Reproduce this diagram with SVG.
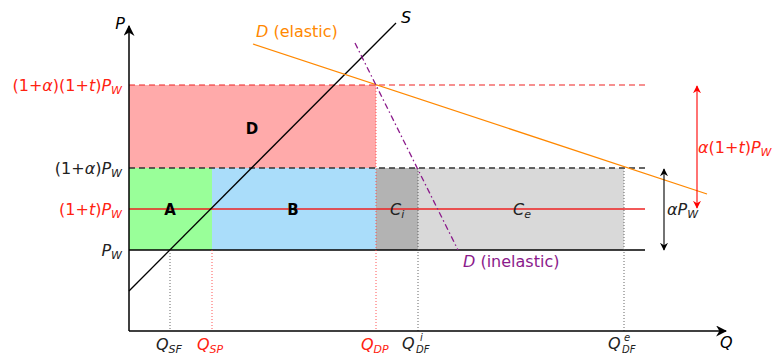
<svg xmlns="http://www.w3.org/2000/svg" width="780" height="355" viewBox="0 0 780 355">
<defs>
<marker id="ab" viewBox="0 0 10 10" refX="9" refY="5" markerWidth="8" markerHeight="8" markerUnits="userSpaceOnUse" orient="auto-start-reverse"><path d="M0,0 L10,5 L0,10 L3,5 Z" fill="#000"/></marker>
<marker id="ar" viewBox="0 0 10 10" refX="9" refY="5" markerWidth="8" markerHeight="8" markerUnits="userSpaceOnUse" orient="auto-start-reverse"><path d="M0,0 L10,5 L0,10 L3,5 Z" fill="#f00"/></marker>
<marker id="axm" viewBox="0 0 10 10" refX="9" refY="5" markerWidth="11" markerHeight="11" markerUnits="userSpaceOnUse" orient="auto"><path d="M0,0 L10,5 L0,10 L3,5 Z" fill="#000"/></marker>
</defs>
<style>
text{font-family:"DejaVu Sans","Liberation Sans",sans-serif;font-size:16px}
.m{font-style:italic}
.red{fill:#f21}
.blk{fill:#222}
.lbl{font-weight:bold;font-size:15px}
.sub{font-size:11px;font-style:italic}
.sm{font-size:10px;font-style:italic}
.dot{stroke-dasharray:1 2;stroke-width:0.9;fill:none}
</style>
<g id="regions">
<rect id="regionD" x="129" y="85" width="247" height="83" fill="#ffaaaa"/>
<rect id="regionA" x="129" y="168" width="83" height="82" fill="#99ff99"/>
<rect id="regionB" x="212" y="168" width="164" height="82" fill="#aaddfa"/>
<rect id="regionCi" x="376" y="168" width="42" height="82" fill="#b3b3b3"/>
<rect id="regionCe" x="418" y="168" width="206" height="82" fill="#d9d9d9"/>
</g>
<g id="connectors">
<line x1="129" y1="85" x2="645" y2="85" stroke="#e22" stroke-width="1.2" stroke-dasharray="6 4"/>
<line x1="129" y1="168" x2="645" y2="168" stroke="#333" stroke-width="1.4" stroke-dasharray="6 4"/>
<line x1="129" y1="209" x2="645" y2="209" stroke="#e22" stroke-width="1.3"/>
<line x1="129" y1="250" x2="645" y2="250" stroke="#000" stroke-width="1.3"/>
<line class="dot" x1="170" y1="250" x2="170" y2="331" stroke="#555"/>
<line class="dot" x1="212" y1="250" x2="212" y2="331" stroke="#f44"/>
<line class="dot" x1="376" y1="85" x2="376" y2="331" stroke="#f44"/>
<line class="dot" x1="418" y1="168" x2="418" y2="331" stroke="#555"/>
<line class="dot" x1="624" y1="168" x2="624" y2="331" stroke="#555"/>
<line id="supply" x1="129" y1="291" x2="396" y2="23" stroke="#000" stroke-width="1.3"/>
<line id="demandElastic" x1="253" y1="44" x2="707" y2="194" stroke="#ff8800" stroke-width="1.3"/>
<line id="demandInelastic" x1="355" y1="43" x2="458" y2="250" stroke="#8b1a8b" stroke-width="1.3" stroke-dasharray="6 3 1.5 3"/>
<line x1="129" y1="331" x2="726" y2="331" stroke="#000" stroke-width="1.5" marker-end="url(#axm)"/>
<line x1="129" y1="331" x2="129" y2="26" stroke="#000" stroke-width="1.5" marker-end="url(#axm)"/>
<line x1="697" y1="86" x2="697" y2="208" stroke="#f00" stroke-width="1.1" marker-start="url(#ar)" marker-end="url(#ar)"/>
<line x1="664" y1="169" x2="664" y2="250" stroke="#000" stroke-width="1.1" marker-start="url(#ab)" marker-end="url(#ab)"/>
</g>
<g id="labels">
<text x="125" y="29" class="m" text-anchor="end">P</text>
<text x="720" y="348" class="m">Q</text>
<text x="401" y="23" class="m">S</text>
<text x="256" y="37" fill="#ff8800"><tspan class="m">D</tspan> (elastic)</text>
<text x="463" y="267" fill="#8b1a8b"><tspan class="m">D</tspan> (inelastic)</text>
<text x="122" y="91" text-anchor="end" class="red">(1+<tspan class="m">α</tspan>)(1+<tspan class="m">t</tspan>)<tspan class="m">P</tspan><tspan class="sub" dy="3">W</tspan></text>
<text x="122" y="174" text-anchor="end" class="blk">(1+<tspan class="m">α</tspan>)<tspan class="m">P</tspan><tspan class="sub" dy="3">W</tspan></text>
<text x="122" y="215" text-anchor="end" class="red">(1+<tspan class="m">t</tspan>)<tspan class="m">P</tspan><tspan class="sub" dy="3">W</tspan></text>
<text x="122" y="256" text-anchor="end" class="blk"><tspan class="m">P</tspan><tspan class="sub" dy="3">W</tspan></text>
<text x="698" y="153" class="red"><tspan class="m">α</tspan>(1+<tspan class="m">t</tspan>)<tspan class="m">P</tspan><tspan class="sub" dy="3">W</tspan></text>
<text x="667" y="215" class="blk"><tspan class="m">αP</tspan><tspan class="sub" dy="3">W</tspan></text>
<text x="252" y="134" class="lbl" text-anchor="middle">D</text>
<text x="170" y="215" class="lbl" text-anchor="middle">A</text>
<text x="293" y="215" class="lbl" text-anchor="middle">B</text>
<text x="390" y="215" class="m blk">C<tspan class="sub" dy="3">i</tspan></text>
<text x="513" y="215" class="m blk">C<tspan class="sub" dy="3">e</tspan></text>
<text x="156" y="350" class="m blk">Q<tspan class="sub" dy="3">SF</tspan></text>
<text x="197" y="350" class="m red">Q<tspan class="sub" dy="3">SP</tspan></text>
<text x="361" y="350" class="m red">Q<tspan class="sub" dy="3">DP</tspan></text>
<text x="402" y="349" class="m blk">Q</text>
<text x="420" y="341" class="sm blk">i</text>
<text x="416" y="353" class="sm blk">DF</text>
<text x="608" y="349" class="m blk">Q</text>
<text x="624" y="341" class="sm blk">e</text>
<text x="622" y="353" class="sm blk">DF</text>
</g>
</svg>
